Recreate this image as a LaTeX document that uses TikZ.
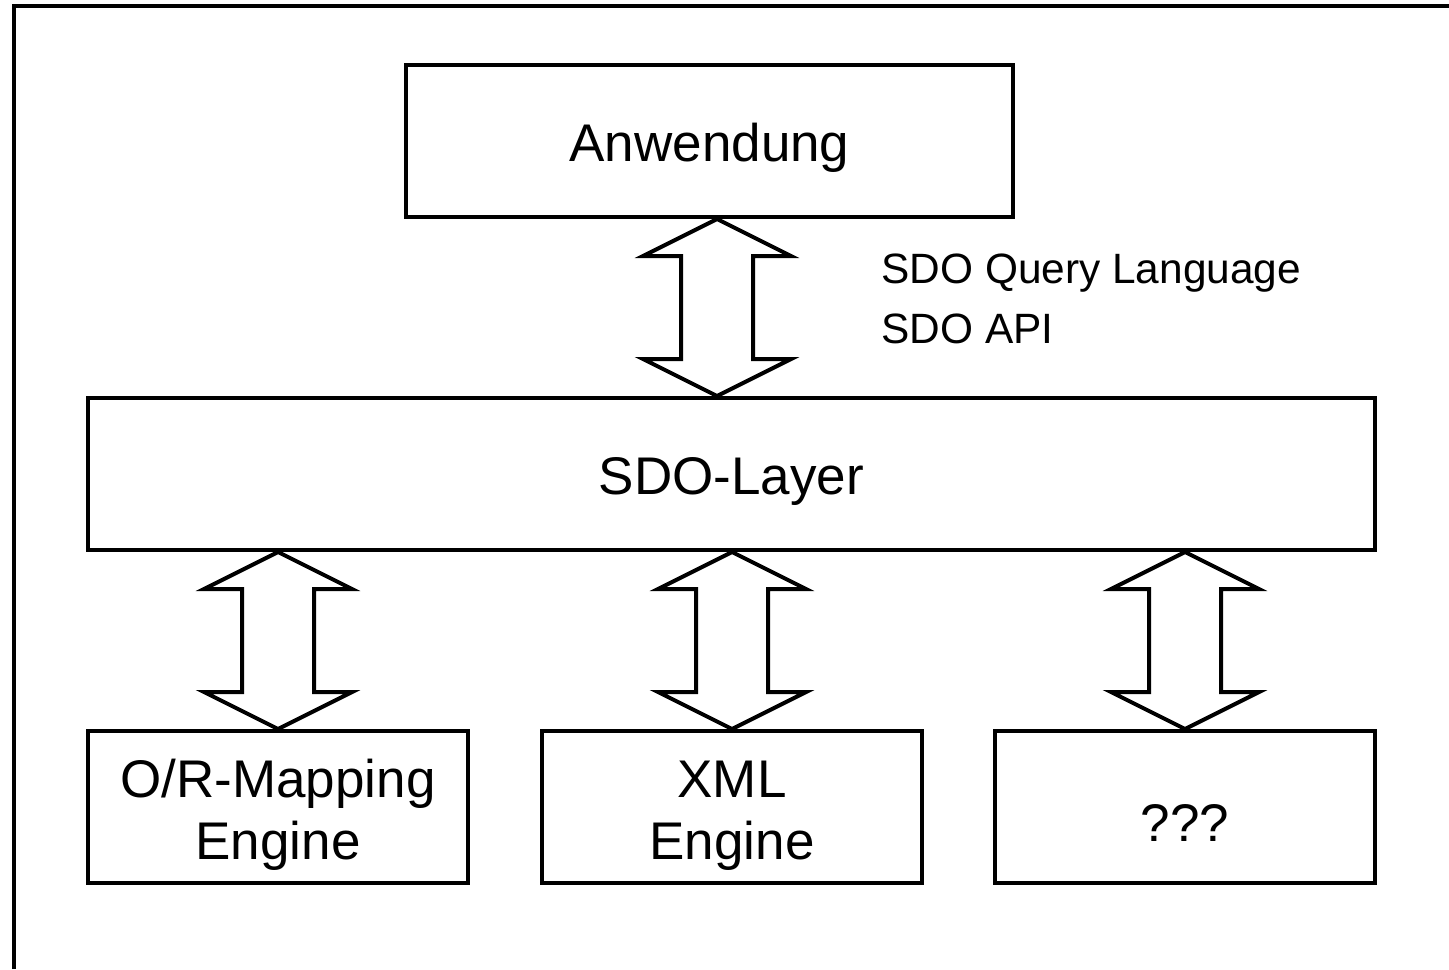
\documentclass[tikz,border=0pt]{standalone}
\usepackage{fontspec}
\setmainfont{Liberation Sans}
\usetikzlibrary{calc}
\begin{document}
\begin{tikzpicture}[x=0.5bp,y=-0.5bp,
  box/.style={draw,line width=2bp,minimum height=76bp,inner sep=0pt,align=center,
    font=\fontsize{26.5bp}{31bp}\selectfont},
  one/.style={text height=20.8bp,text depth=0pt},
  two/.style={text height=52bp,text depth=0pt},
  blk/.style={draw,line width=2bp,line join=miter},
  lbl/.style={anchor=base west,inner sep=0pt,font=\fontsize{21.2bp}{30bp}\selectfont}]
\useasboundingbox (0,0) rectangle (1449,969);
\draw[line width=2bp] (14,969) -- (14,6) -- (1449,6);
\node[box,one,minimum width=303.5bp] (anw) at (709.5,141) {Anwendung};
\node[box,one,minimum width=643.5bp] (sdo) at (731.5,474) {SDO-Layer};
\node[box,two,minimum width=190bp] (orm) at (278,807) {O/R-Mapping\\Engine};
\node[box,two,minimum width=190bp] (xml) at (732,807) {XML\\Engine};
\node[box,text height=34bp,text depth=0pt,minimum width=190bp] (unk) at (1185,807) {???};
\node[lbl] (q1) at (881,283) {SDO Query Language};
\node[lbl] (q2) at (881,343) {SDO API};
\coordinate (ax) at (717,0);
\newcommand\dualarrow[2]{%
  \draw[blk] (#1) -- ++(74,37) -- ++(-38,0) -- ($(#2)+(36,-37)$) -- ++(38,0) -- (#2)
    -- ++(-74,-37) -- ++(38,0) -- ($(#1)+(-36,37)$) -- ++(-38,0) -- cycle;}
\dualarrow{anw.south -| ax}{sdo.north -| ax}
\dualarrow{sdo.south -| orm.north}{orm.north}
\dualarrow{sdo.south -| xml.north}{xml.north}
\dualarrow{sdo.south -| unk.north}{unk.north}
\end{tikzpicture}
\end{document}
